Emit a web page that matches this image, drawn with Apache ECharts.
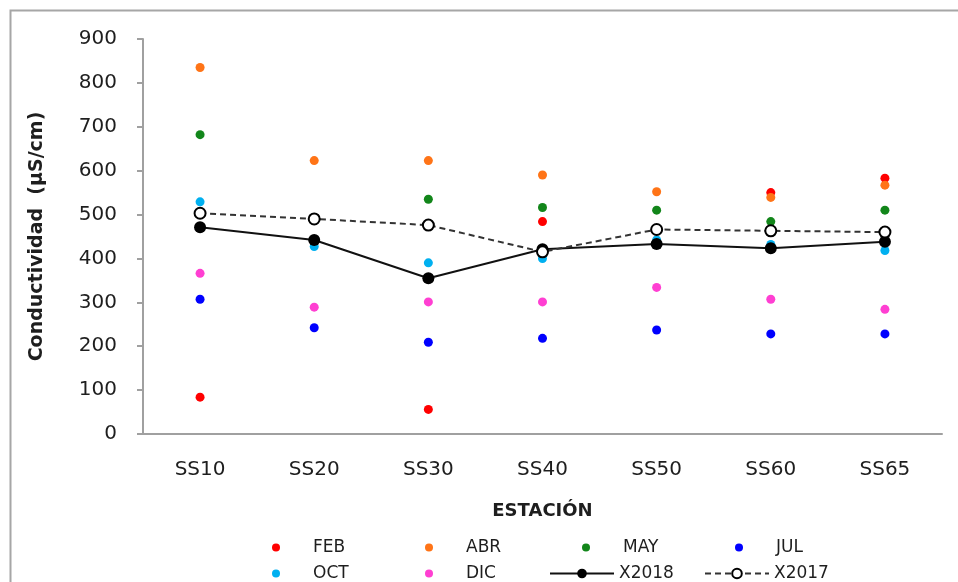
<!DOCTYPE html>
<html>
<head>
<meta charset="utf-8">
<script src="https://cdn.jsdelivr.net/npm/echarts@6/dist/echarts.min.js"></script>
<style>
  html, body { margin: 0; padding: 0; background: #fff; }
  #chart { width: 958px; height: 582px; }
</style>
</head>
<body>
<div id="chart"></div>
<script>
const estaciones = ['SS10', 'SS20', 'SS30', 'SS40', 'SS50', 'SS60', 'SS65'];

const feb = [84, null, 56, 484, null, 550, 583];
const abr = [835, 623, 623, 590, 552, 539, 567];
const may = [682, null, 535, 516, 510, 484, 510];
const jul = [307, 242, 209, 218, 237, 228, 228];
const oct = [529, 427, 390, 400, 442, 432, 418];
const dic = [366, 289, 301, 301, 334, 307, 284];
const x2018 = [471, 442, 355, 421, 433, 423, 438];
const x2017 = [503, 490, 476, 415, 466, 463, 460];

const font = '"DejaVu Sans", Verdana, sans-serif';
const txt = '#1e1e1e';

const meses = [
  { name: 'FEB', data: feb, color: '#ff0000' },
  { name: 'ABR', data: abr, color: '#ff7417' },
  { name: 'MAY', data: may, color: '#12861a' },
  { name: 'JUL', data: jul, color: '#0000ff' },
  { name: 'OCT', data: oct, color: '#00b0f0' },
  { name: 'DIC', data: dic, color: '#ff3fd2' }
];

const series = meses.map(m => ({
  name: m.name,
  type: 'scatter',
  data: m.data,
  symbolSize: 9,
  itemStyle: { color: m.color, opacity: 1 }
}));

series.push({
  name: 'X2018',
  type: 'line',
  data: x2018,
  symbol: 'circle',
  symbolSize: 12,
  itemStyle: { color: '#000' },
  lineStyle: { color: '#111', width: 2 },
  z: 3
});
series.push({
  name: 'X2017',
  type: 'line',
  data: x2017,
  symbol: 'emptyCircle',
  symbolSize: 11,
  itemStyle: { color: '#000', borderWidth: 2 },
  lineStyle: { color: '#333', width: 2, type: [6, 4] },
  z: 4
});

// legend: two rows, four columns (one small legend per entry)
const legendItems = [
  { name: 'FEB', left: 272, top: 539, h: 8 },
  { name: 'ABR', left: 425, top: 539, h: 8 },
  { name: 'MAY', left: 582, top: 539, h: 8 },
  { name: 'JUL', left: 735, top: 539, h: 8 },
  { name: 'OCT', left: 272, top: 565, h: 8 },
  { name: 'DIC', left: 425, top: 565, h: 8 },
  { name: 'X2018', left: 549, top: 565, h: 12 },
  { name: 'X2017', left: 704, top: 565, h: 12 }
];
const legends = legendItems.map(it => ({
  data: [it.name],
  left: it.left,
  top: it.top,
  itemWidth: 64,
  itemHeight: it.h,
  itemGap: 0,
  padding: 0,
  selectedMode: false,
  textStyle: { fontFamily: font, fontSize: 17, color: txt }
}));

const chart = echarts.init(document.getElementById('chart'));
chart.setOption({
  animation: false,
  backgroundColor: '#fff',
  graphic: [{
    type: 'rect',
    shape: { x: 10.5, y: 10.5, width: 1000, height: 1000 },
    style: { fill: 'none', stroke: '#a6a6a6', lineWidth: 2 },
    silent: true
  }],
  grid: { left: 143, right: 16, top: 39, bottom: 148 },
  legend: legends,
  xAxis: {
    type: 'category',
    data: estaciones,
    name: 'ESTACIÓN',
    nameLocation: 'middle',
    nameGap: 68,
    nameTextStyle: { fontFamily: font, fontSize: 18, fontWeight: 'bold', color: txt },
    axisLine: { lineStyle: { color: '#a0a0a0', width: 2 } },
    axisTick: { length: 6, lineStyle: { color: '#a0a0a0', width: 2 } },
    axisLabel: { margin: 26, fontFamily: font, fontSize: 20, color: txt },
    splitLine: { show: false }
  },
  yAxis: {
    type: 'value',
    min: 0,
    max: 900,
    interval: 100,
    name: 'Conductividad  (µS/cm)',
    nameLocation: 'middle',
    nameGap: 96,
    nameTextStyle: { fontFamily: font, fontSize: 19, fontWeight: 'bold', color: txt },
    axisLine: { show: true, lineStyle: { color: '#a0a0a0', width: 2 } },
    axisTick: { show: true, length: 6, lineStyle: { color: '#a0a0a0', width: 2 } },
    axisLabel: { margin: 26, fontFamily: font, fontSize: 20, color: txt },
    splitLine: { show: false }
  },
  series: series
});
</script>
</body>
</html>
